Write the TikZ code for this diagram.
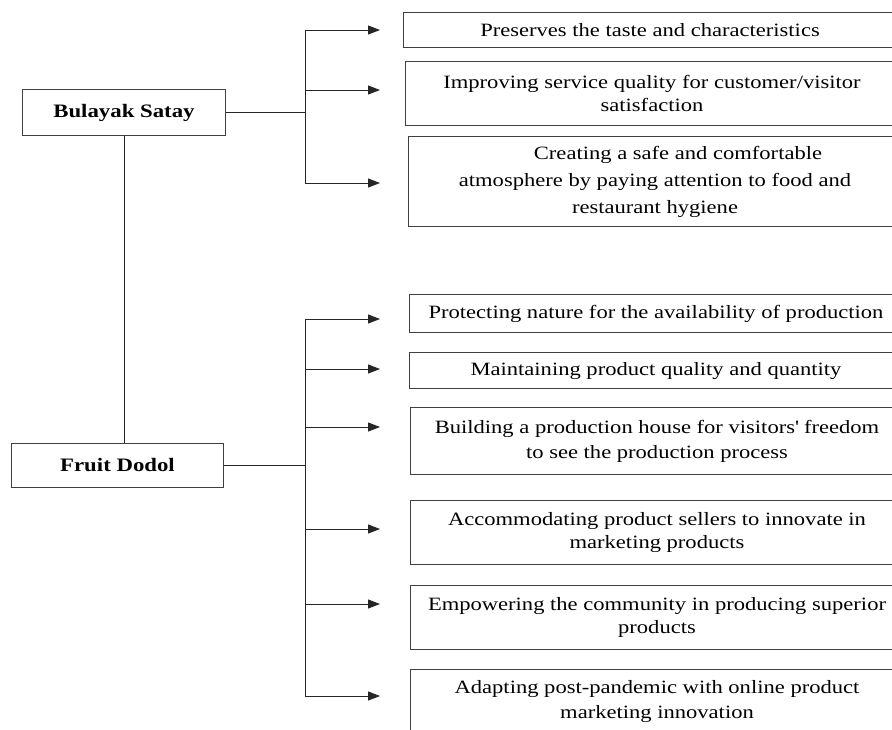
\documentclass[tikz,border=0pt]{standalone}
\usepackage{fontspec}
\setmainfont{Liberation Serif}[FakeStretch=1.2]
\usetikzlibrary{arrows.meta}
\tikzset{
  headbox/.style = {draw=black!75, line width=1pt, inner sep=0pt, anchor=north west,
                    font=\bfseries\fontsize{19}{23}\selectfont},
  itembox/.style = {draw=black!75, line width=1pt, inner sep=0pt, anchor=north west,
                    align=center, minimum width=493pt, font=\fontsize{18.8}{24}\selectfont},
  linkln/.style  = {black!85, line width=1pt},
  branch/.style  = {-{Triangle[length=12pt,width=9pt]}, black!85, line width=1pt}
}

\begin{document}
\begin{tikzpicture}[x=1pt,y=-1pt]
  \useasboundingbox (0,0) rectangle (892,729);
  % the two products
  \node[headbox, minimum width=203pt, minimum height=46pt] (satay) at (22,89) {Bulayak Satay};
  \node[headbox, minimum width=212pt, minimum height=44pt] (dodol) at (11,443) {Fruit Dodol};
  \draw[linkln] (satay.south) -- (satay.south |- dodol.north);

  % strategies for Bulayak Satay
  \node[itembox, minimum height=35pt] (sat1) at (403,12) {Preserves the taste and characteristics};
  \node[itembox, minimum height=64pt, font=\fontsize{18.8}{22.7}\selectfont] (sat2) at (405,61)
       {Improving service quality for customer/visitor\\ satisfaction};
  \node[itembox, minimum height=90pt, font=\fontsize{18.8}{27}\selectfont] (sat3) at (408,136)
       {\hspace*{46pt}Creating a safe and comfortable\\ atmosphere by paying attention to food and\\ restaurant hygiene};
  \coordinate (sa) at (305,30);
  \coordinate (sb) at (305,183);
  \draw[linkln] (satay.east) -- (satay.east -| sa);
  \draw[linkln] (sa) -- (sb);
  \foreach \y [count=\i] in {30,90,183}
    { \coordinate (sf\i) at (305,\y); \coordinate (st\i) at (380,\y);
      \draw[branch] (sf\i) -- (st\i); }

  % strategies for Fruit Dodol
  \node[itembox, minimum height=38pt] (dod1) at (409,294) {Protecting nature for the availability of production};
  \node[itembox, minimum height=36pt] (dod2) at (409,352) {Maintaining product quality and quantity};
  \node[itembox, minimum height=67pt, font=\fontsize{18.8}{25}\selectfont] (dod3) at (410,407)
       {Building a production house for visitors\textquotesingle{} freedom\\ to see the production process};
  \node[itembox, minimum height=64pt, font=\fontsize{18.8}{23}\selectfont] (dod4) at (410,500)
       {Accommodating product sellers to innovate in\\ marketing products};
  \node[itembox, minimum height=64pt, font=\fontsize{18.8}{23.5}\selectfont] (dod5) at (410,585)
       {Empowering the community in producing superior\\ products};
  \node[itembox, minimum height=64pt, font=\fontsize{18.8}{25}\selectfont] (dod6) at (410,669)
       {Adapting post-pandemic with online product\\ marketing innovation};
  \coordinate (da) at (305,319);
  \coordinate (db) at (305,696);
  \draw[linkln] (dodol.east) -- (dodol.east -| da);
  \draw[linkln] (da) -- (db);
  \foreach \y [count=\i] in {319,369,427,529,604,696}
    { \coordinate (df\i) at (305,\y); \coordinate (dt\i) at (380,\y);
      \draw[branch] (df\i) -- (dt\i); }
\end{tikzpicture}
\end{document}
